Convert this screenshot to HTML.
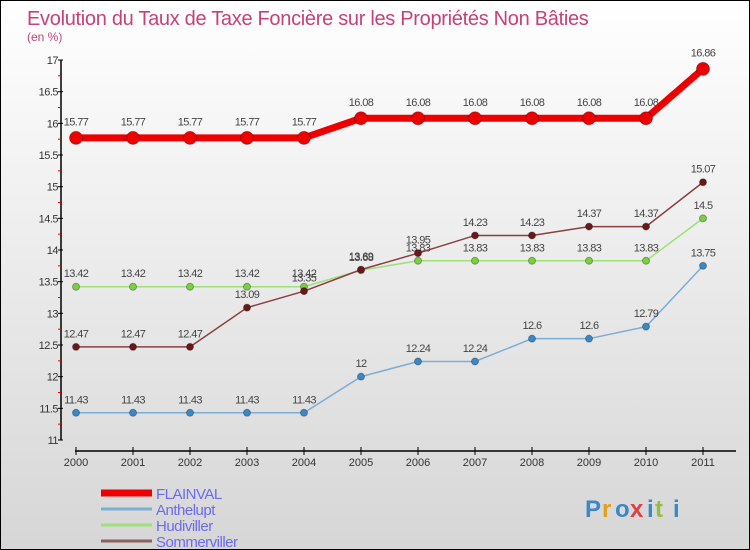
<!DOCTYPE html>
<html><head><meta charset="utf-8"><style>
html,body{margin:0;padding:0}
body{width:750px;height:550px;overflow:hidden;font-family:"Liberation Sans",sans-serif}
#wrap{position:relative;width:748px;height:548px;border:1px solid #000;background:linear-gradient(#ffffff,#d6d6d6)}
</style></head><body>
<div id="wrap">
<svg id="chart" width="748" height="548" style="position:absolute;left:0;top:0"></svg>
</div>
<script>
const years=[2000,2001,2002,2003,2004,2005,2006,2007,2008,2009,2010,2011];
const yTicks=[11,11.5,12,12.5,13,13.5,14,14.5,15,15.5,16,16.5,17];
const flainval=[15.77,15.77,15.77,15.77,15.77,16.08,16.08,16.08,16.08,16.08,16.08,16.86];
const anthelupt=[11.43,11.43,11.43,11.43,11.43,12,12.24,12.24,12.6,12.6,12.79,13.75];
const hudiviller=[13.42,13.42,13.42,13.42,13.42,13.68,13.83,13.83,13.83,13.83,13.83,14.5];
const sommerviller=[12.47,12.47,12.47,13.09,13.35,13.69,13.95,14.23,14.23,14.37,14.37,15.07];
const seriesNames=["FLAINVAL","Anthelupt","Hudiviller","Sommerviller"];
const NS="http://www.w3.org/2000/svg";
const svg=document.getElementById('chart');
function X(i){return 75+i*57;}
function Y(v){return 439-(v-11)*63.33;}
function el(t,a,p){const e=document.createElementNS(NS,t);for(const k in a)e.setAttribute(k,a[k]);(p||svg).appendChild(e);return e;}
function txt(x,y,s,a){const e=el('text',Object.assign({x:x,y:y},a));e.textContent=s;return e;}
let t=txt(26,24,"Evolution du Taux de Taxe Foncière sur les Propriétés Non Bâties",{'font-size':20,fill:'#c8407a','letter-spacing':'-0.3'});

t=txt(26,40,"(en %)",{'font-size':12,fill:'#c8407a'});

let ax=el('line',{x1:60,y1:Y(17),x2:60,y2:Y(11),stroke:'#000','stroke-width':1.5});

yTicks.forEach(v=>{el('line',{x1:57,y1:Y(v),x2:62,y2:Y(v),stroke:'#000'});
 el('line',{x1:57,y1:Y(v+0.25),x2:60,y2:Y(v+0.25),stroke:v<17?'#e00':'none'});
 const l=txt(57,Y(v)+4,String(v),{'font-size':11,fill:'#333','text-anchor':'end','letter-spacing':'-0.5'});
 });
ax=el('line',{x1:X(0)-1,y1:450,x2:735,y2:450,stroke:'#000','stroke-width':1.5});

years.forEach((yr,i)=>{el('line',{x1:X(i),y1:446,x2:X(i),y2:454,stroke:'#000'});
 const l=txt(X(i),465,String(yr),{'font-size':11,fill:'#333','text-anchor':'middle'});
 });
function series(vals,color,dot,w,r,name){
 const g=el('g',{});
 el('polyline',{points:vals.map((v,i)=>X(i)+','+Y(v)).join(' '),fill:'none',stroke:color,'stroke-width':w},g);
 vals.forEach((v,i)=>{const c=el('circle',{cx:X(i),cy:Y(v),r:r,fill:dot,stroke:'rgba(0,0,0,0.3)'},g);
  
  const l=txt(X(i),Y(v)-r-6,String(v),{'font-size':11,fill:'#444','text-anchor':'middle','letter-spacing':'-0.6'},g);
  });}
series(anthelupt,'#7aaed6','#3a88c8',1.5,3.5,'anthelupt');
series(hudiviller,'#9ee07a','#7ad040',1.5,3.5,'hudiviller');
series(sommerviller,'#8a4040','#6a1818',1.5,3.5,'sommerviller');
series(flainval,'#ee0000','#ee0000',7,6.5,'flainval');
const legColors=['#ee0000','#7aaed6','#9ee07a','#8a6060'];const legW=[7,3,3,3];
seriesNames.forEach((n,i)=>{const g=el('g',{});
 const y=492+i*16;el('line',{x1:100,y1:y,x2:151,y2:y,stroke:legColors[i],'stroke-width':legW[i]},g);
 txt(155,y+6,n,{'font-size':15,fill:'#6b6bef','letter-spacing':'-0.5'},g);});
const lg=el('g',{});
const cols=['#3a88c8','#e0a020','#3a88c8','#e04040','#3a88c8','#90c040','#3a88c8'];
const xs=[584,601,614,629,646,654,672];
"Proxiti".split('').forEach((c,i)=>txt(xs[i],516,c,{'font-size':24,'font-weight':'bold',fill:cols[i]},lg));
</script>
</body></html>
